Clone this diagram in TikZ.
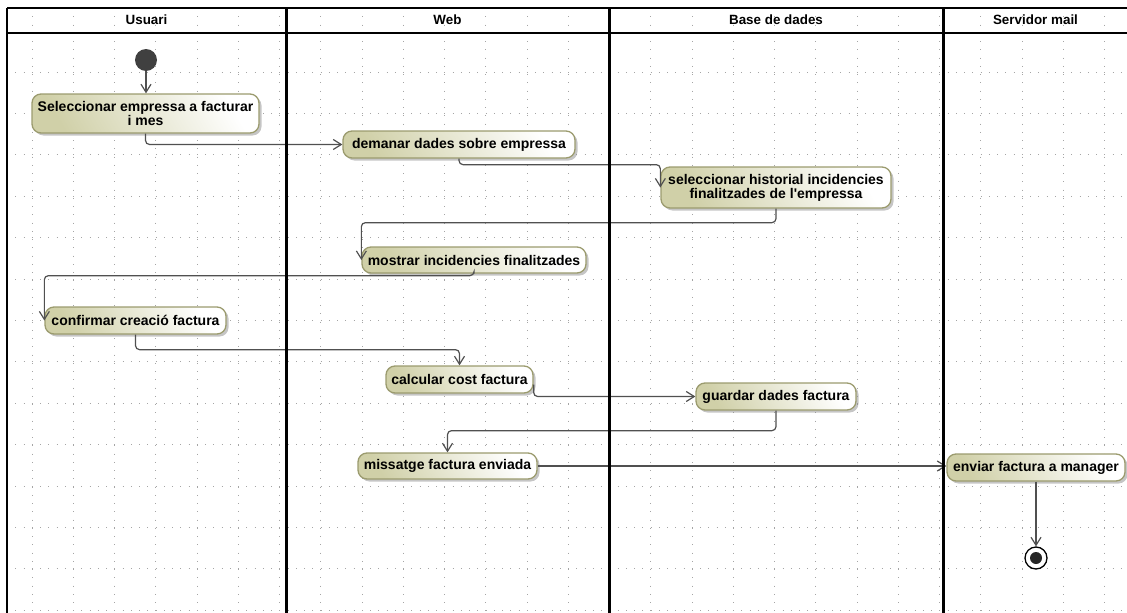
\documentclass[tikz,border=0pt]{standalone}
\usepackage{fontspec}
\setmainfont{Liberation Sans}
\usetikzlibrary{arrows.meta,shadows}
\definecolor{actfill}{RGB}{208,208,168}
\definecolor{actline}{RGB}{155,155,110}
\definecolor{flowline}{RGB}{80,80,80}
\definecolor{gridgray}{RGB}{165,165,165}
\begin{document}
\begin{tikzpicture}[x=1pt,y=-1pt,
  accio/.style={draw=actline,line width=1.3pt,rounded corners=9pt,left color=actfill,right color=white,shading angle=120,inner sep=2pt,align=center,font=\bfseries\fontsize{14}{14}\selectfont,drop shadow={shadow xshift=2.5pt,shadow yshift=-2.5pt,fill=black!45,opacity=.5}},
  flux/.style={draw=flowline,line width=1.2pt,rounded corners=4pt,-{Straight Barb[length=8pt,width=10pt]}},
  carril/.style={line width=3pt},
  capcal/.style={font=\bfseries\fontsize{13.4}{14}\selectfont},
  punts/.style={gridgray,line width=1pt,dash pattern=on 1pt off 7.25pt}]
\useasboundingbox (0,0) rectangle (1127,613);
% quadricula
\foreach \gx in {0,...,26} \draw[punts] ({32+41.25*\gx},8) -- ({32+41.25*\gx},613);
\foreach \gy in {0,...,13} \draw[punts] (7,{72+41.4*\gy}) -- (1127,{72+41.4*\gy});
% capcaleres
\node[capcal] (usuari) at (146.5,20) {Usuari};
\node[capcal] (web) at (447.5,20) {Web};
\node[capcal] (basedades) at (776,20) {Base de dades};
\node[capcal] (servidor) at (1035.5,20) {Servidor mail};
% activitats
\node[circle,fill=black!75,minimum size=22pt,inner sep=0pt] (inici) at (146,60) {};
\node[accio,minimum width=227pt,minimum height=39pt] (selEmpresa) at (145.5,113.5) {Seleccionar empressa a facturar\\i mes};
\node[accio,minimum width=232pt,minimum height=27pt] (demDades) at (459,144.5) {demanar dades sobre empressa};
\node[accio,minimum width=230pt,minimum height=41pt] (selHist) at (776,187.5) {seleccionar historial incidencies\\finalitzades de l\textquotesingle{}empressa};
\node[accio,minimum width=224pt,minimum height=26pt] (mostrar) at (474,260) {mostrar incidencies finalitzades};
\node[accio,minimum width=181pt,minimum height=27pt] (confirmar) at (135.5,320.5) {confirmar creació factura};
\node[accio,minimum width=147pt,minimum height=27pt] (calcular) at (459.5,379.5) {calcular cost factura};
\node[accio,minimum width=160pt,minimum height=27pt] (guardar) at (776,396.5) {guardar dades factura};
\node[accio,minimum width=179pt,minimum height=26pt] (missatge) at (447.5,466) {missatge factura enviada};
\node[accio,minimum width=178pt,minimum height=27pt] (enviar) at (1036,467.5) {enviar factura a manager};
\node[circle,draw=black,line width=1.3pt,fill=white,minimum size=22pt,inner sep=0pt,
  path picture={\fill[black!85] (path picture bounding box.center) circle (6pt);}] (final) at (1036,558) {};
% fluxos
\draw[flux] (inici.south) -- (inici.south |- selEmpresa.north);
\draw[flux] (selEmpresa.south) |- (demDades.west);
\draw[flux] (demDades.south) -- ++(0,6) -| (selHist.west);
\draw[flux] (selHist.south) -- ++(0,14) -| (mostrar.west);
\draw[flux] (mostrar.south) -- ++(0,2) -| (confirmar.west);
\draw[flux] (confirmar.south) -- ++(0,15) -| (calcular.north);
\draw[flux] ([yshift=-5pt]calcular.east) |- (guardar.west);
\draw[flux] (guardar.south) -- ++(0,20) -| (missatge.north);
\draw[flux] (missatge.east) -- (missatge.east -| enviar.west);
\draw[flux] (enviar.south) -- (final.north);
% carrils
\draw[line width=2pt] (7,8) -- (1127,8);
\draw[line width=2.5pt] (7,33) -- (1127,33);
\draw[line width=2pt] (7,8) -- (7,613);
\draw[carril] (286,8) -- (286,613);
\draw[carril] (609,8) -- (609,613);
\draw[carril] (943,8) -- (943,613);
\end{tikzpicture}
\end{document}
